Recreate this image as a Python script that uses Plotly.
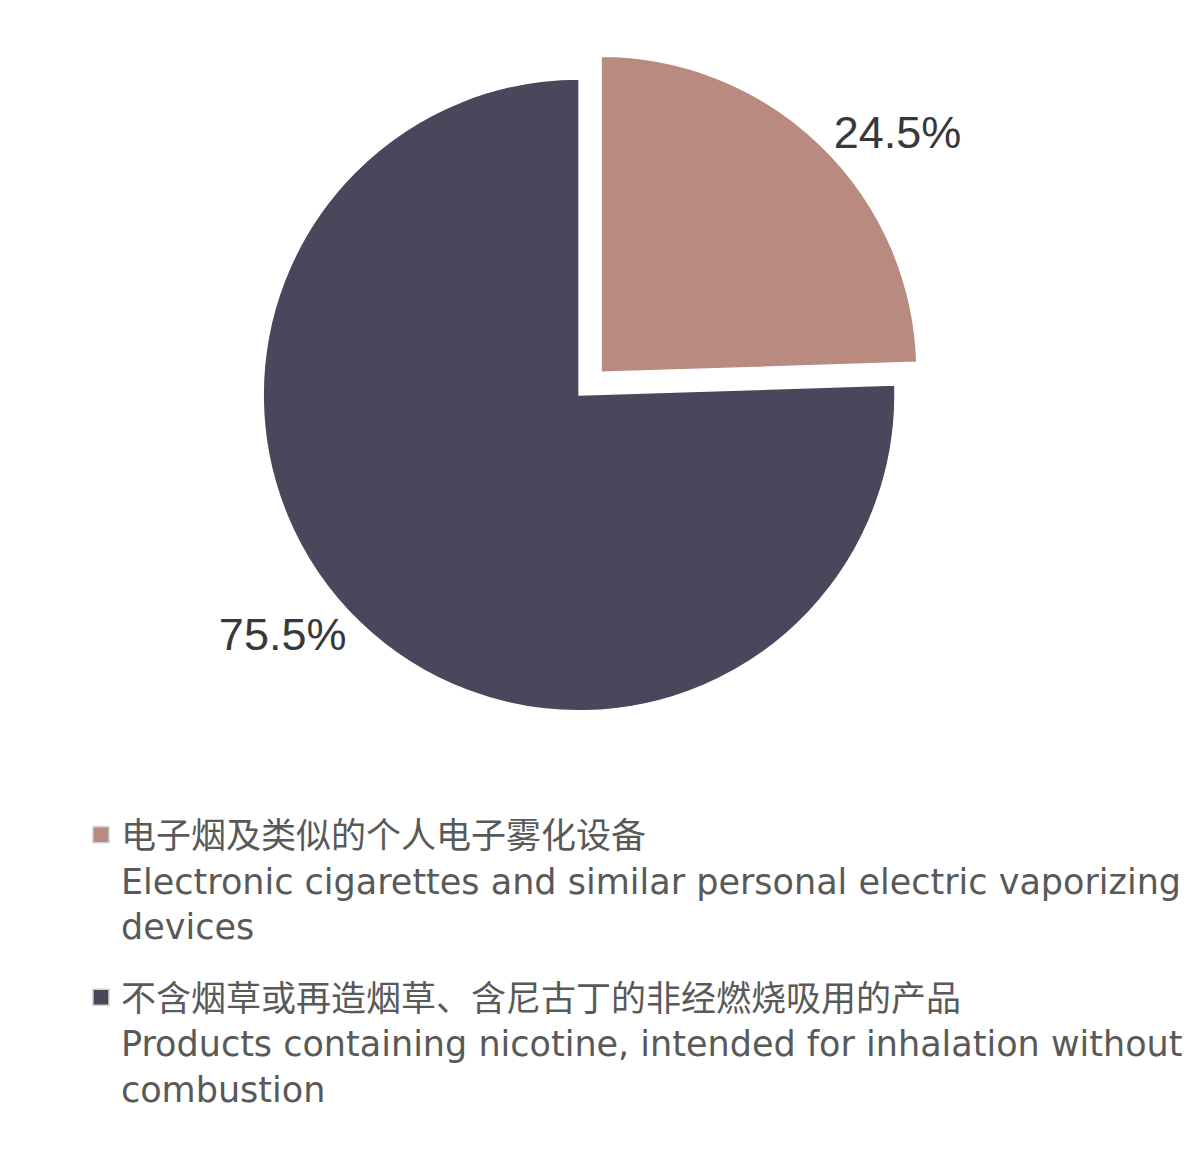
import plotly.graph_objects as go

labels = [
    "电子烟及类似的个人电子雾化设备<br>Electronic cigarettes and similar personal electric vaporizing<br>devices",
    "不含烟草或再造烟草、含尼古丁的非经燃烧吸用的产品<br>Products containing nicotine, intended for inhalation without<br>combustion",
]
shares = [24.5, 75.5]
colors = ["#b88a80", "#4a475d"]
pulls = [0.1, 0]

label_font = "Liberation Sans, Noto Sans CJK SC, sans-serif"
legend_font = "DejaVu Sans, Noto Sans CJK SC, sans-serif"

fig = go.Figure()
fig.add_trace(go.Pie(
    labels=labels, values=shares, sort=False, direction="clockwise", rotation=0,
    pull=pulls, marker=dict(colors=colors, line=dict(color="white", width=1.5)),
    texttemplate="%{value:.1f}%", textposition="outside",
    outsidetextfont=dict(size=45, color="#383838", family=label_font),
    hoverinfo="label+percent", showlegend=False,
    domain=dict(x=[0.1863, 0.7655], y=[0.3701, 0.9662]),
))

# legend entries (one group each so the gap between them can be set)
for name, c in zip(labels, colors):
    fig.add_trace(go.Scatter(
        x=[None], y=[None], mode="markers", name=name, legendgroup=name,
        marker=dict(symbol="square", size=16, color=c, line=dict(color="#d0d0d0", width=1.5)),
    ))

fig.update_layout(
    width=1200, height=1166,
    margin=dict(l=0, r=0, t=0, b=0, autoexpand=False),
    paper_bgcolor="white", plot_bgcolor="white",
    xaxis=dict(visible=False), yaxis=dict(visible=False),
    legend=dict(x=0.0608, y=0.3161, xanchor="left", yanchor="top", valign="top",
                tracegroupgap=23,
                font=dict(size=35, color="#595959", family=legend_font),
                bgcolor="rgba(0,0,0,0)"),
)

fig.write_html("out.html")
